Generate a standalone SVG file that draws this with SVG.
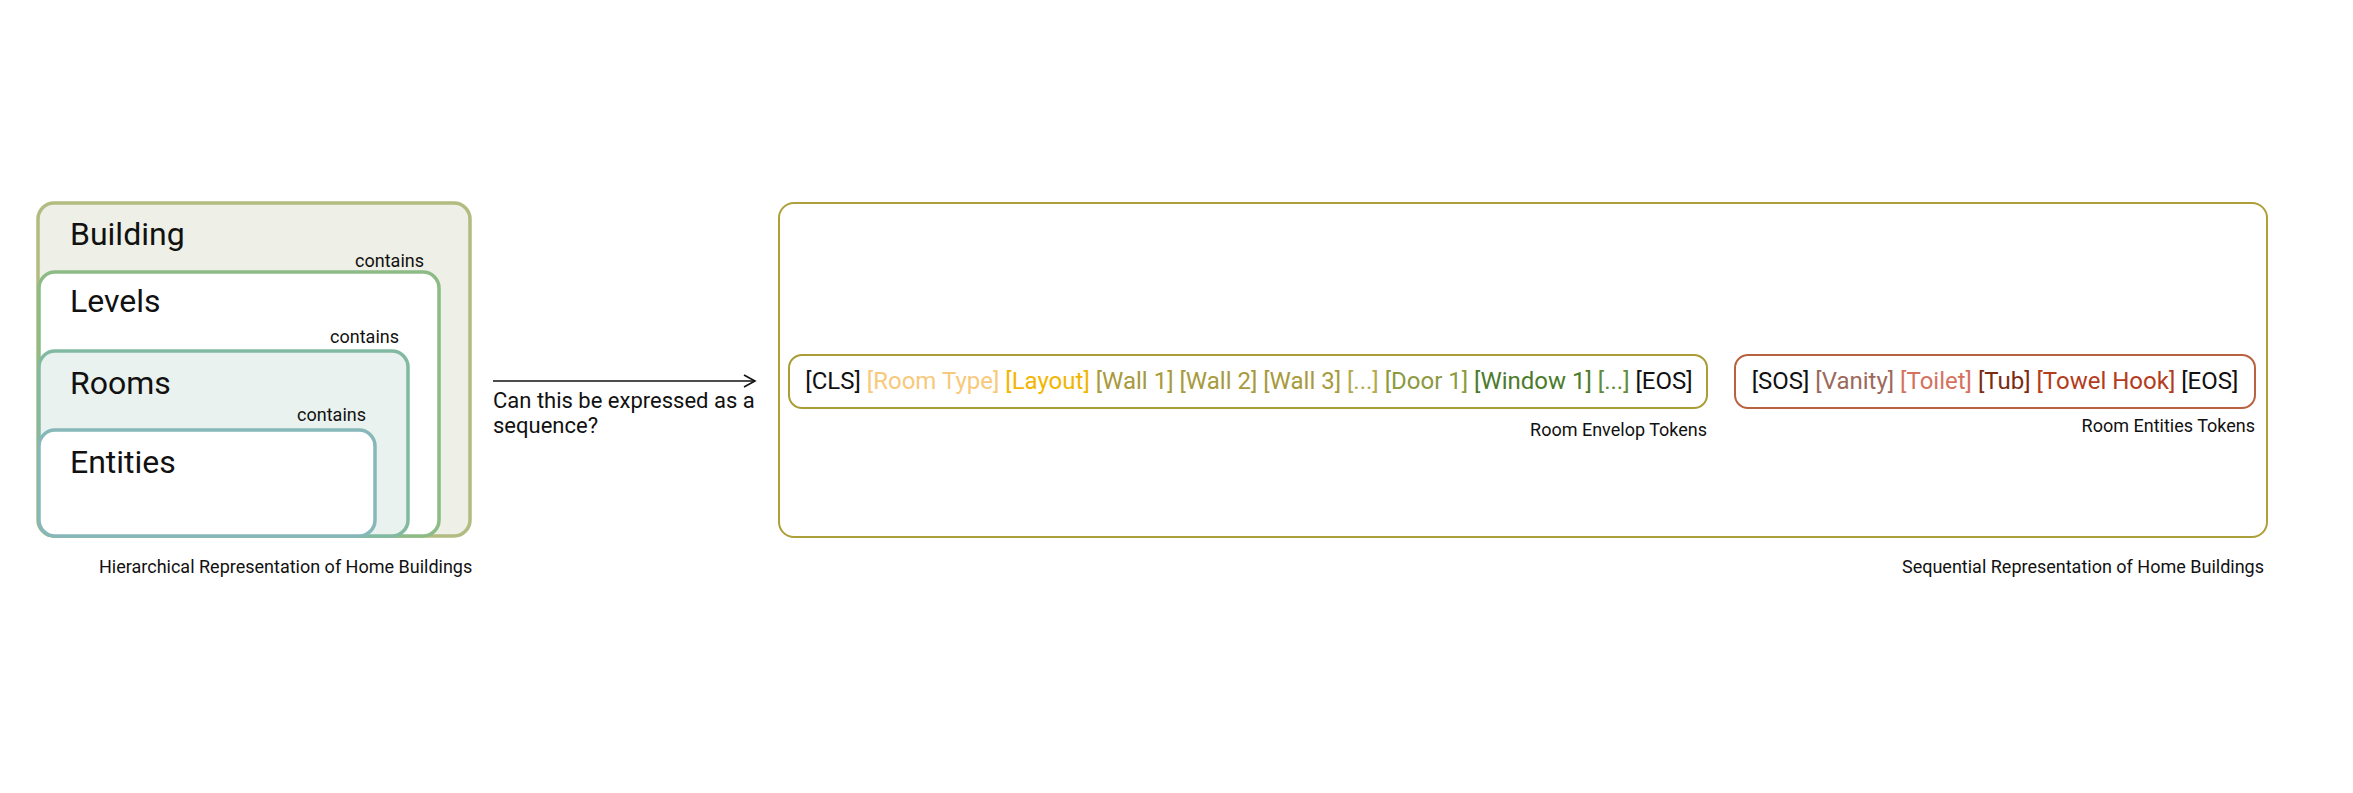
<svg xmlns="http://www.w3.org/2000/svg" width="2353" height="793" viewBox="0 0 2353 793">
<style>
text{font-family:Roboto,"Liberation Sans",sans-serif;fill:#111}
.h{font-size:32px}
.c{font-size:18px}
.t{font-size:24px}
.q{font-size:22px}
</style>
<defs>
<marker id="ah" markerWidth="14" markerHeight="14" refX="12" refY="7" orient="auto" markerUnits="userSpaceOnUse">
<path d="M1,1 L12,7 L1,13" fill="none" stroke="#111" stroke-width="1.6"/>
</marker>
</defs>
<rect width="2353" height="793" fill="#fff"/>
<g id="building">
<rect x="38" y="203" width="432" height="333" rx="16" fill="#eeefe6" stroke="#b2bb80" stroke-width="3.5"/>
<text class="h" x="70" y="245">Building</text>
<text class="c" x="424" y="267" text-anchor="end">contains</text>
</g>
<g id="levels">
<rect x="39" y="272" width="400" height="264" rx="16" fill="#fff" stroke="#8dbb86" stroke-width="3.5"/>
<text class="h" x="70" y="312">Levels</text>
<text class="c" x="399" y="343" text-anchor="end">contains</text>
</g>
<g id="rooms">
<rect x="39" y="351" width="369" height="185" rx="16" fill="#e9f2ee" stroke="#82b9a2" stroke-width="3.5"/>
<text class="h" x="70" y="394">Rooms</text>
<text class="c" x="366" y="421" text-anchor="end">contains</text>
</g>
<g id="entities">
<rect x="39" y="430" width="336" height="106" rx="16" fill="#fff" stroke="#86b8b9" stroke-width="3.5"/>
<text class="h" x="70" y="473">Entities</text>
</g>
<text class="c" x="99" y="573">Hierarchical Representation of Home Buildings</text>
<g id="connectors">
<line x1="493" y1="381" x2="755" y2="381" stroke="#111" stroke-width="1.6" marker-end="url(#ah)"/>
</g>
<text class="q" x="493" y="408">Can this be expressed as a</text>
<text class="q" x="493" y="433">sequence?</text>
<g id="sequence">
<rect x="779" y="203" width="1488" height="334" rx="15" fill="#fff" stroke="#ad9f3a" stroke-width="2"/>
</g>
<g id="envelope">
<rect x="789" y="355" width="918" height="53" rx="13" fill="#fff" stroke="#ab9d35" stroke-width="2"/>
<text class="t" x="1249" y="389" text-anchor="middle"><tspan fill="#111">[CLS]</tspan> <tspan fill="#f7c97a">[Room Type]</tspan> <tspan fill="#f2b600">[Layout]</tspan> <tspan fill="#a89a3c">[Wall 1]</tspan> <tspan fill="#a89a3c">[Wall 2]</tspan> <tspan fill="#a89a3c">[Wall 3]</tspan> <tspan fill="#b3a94e">[...]</tspan> <tspan fill="#8c993f">[Door 1]</tspan> <tspan fill="#4b7b2b">[Window 1]</tspan> <tspan fill="#5f8c3a">[...]</tspan> <tspan fill="#111">[EOS]</tspan></text>
<text class="c" x="1707" y="436" text-anchor="end">Room Envelop Tokens</text>
</g>
<g id="entity-tokens">
<rect x="1735" y="355" width="520" height="53" rx="13" fill="#fff" stroke="#b8623f" stroke-width="2"/>
<text class="t" x="1995" y="389" text-anchor="middle"><tspan fill="#111">[SOS]</tspan> <tspan fill="#9c6a5c">[Vanity]</tspan> <tspan fill="#d4725f">[Toilet]</tspan> <tspan fill="#7b2b12">[Tub]</tspan> <tspan fill="#b33c1c">[Towel Hook]</tspan> <tspan fill="#111">[EOS]</tspan></text>
<text class="c" x="2255" y="432" text-anchor="end">Room Entities Tokens</text>
</g>
<text class="c" x="2264" y="573" text-anchor="end">Sequential Representation of Home Buildings</text>
</svg>
